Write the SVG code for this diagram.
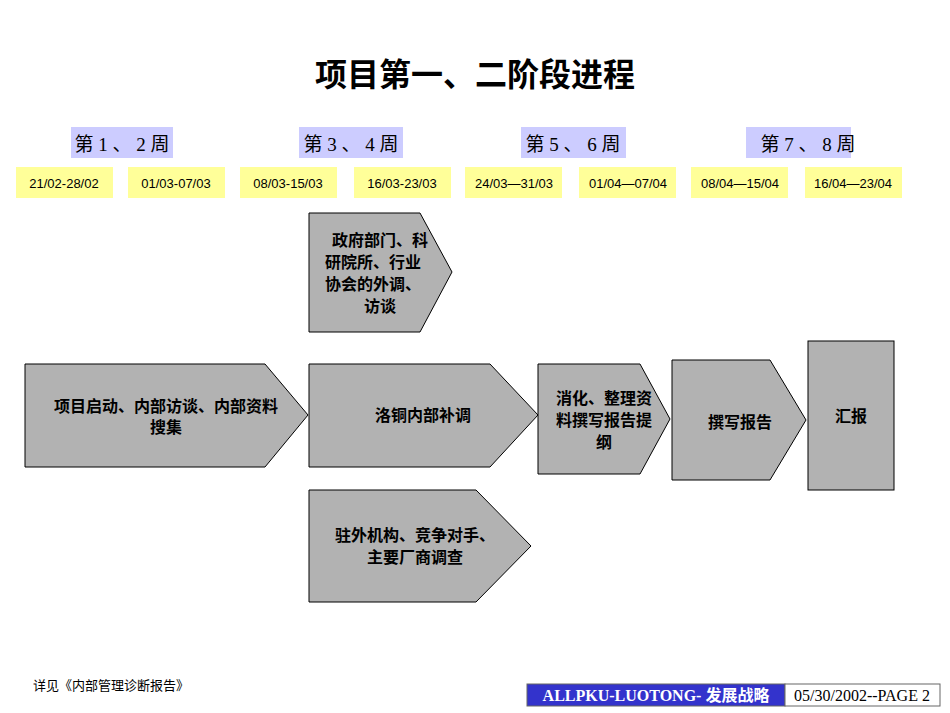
<svg xmlns="http://www.w3.org/2000/svg" width="950" height="713" viewBox="0 0 950 713">
<style>
.s{fill:#b2b2b2;stroke:#000;stroke-width:1}
.t{font-family:"Liberation Sans","Noto Sans CJK SC",sans-serif;font-size:16px;font-weight:bold;fill:#000;text-anchor:middle}
.w{fill:#ccccff}
.wt{font-family:"Liberation Serif","Noto Sans CJK SC",serif;font-size:19px;fill:#000;text-anchor:middle}
.d{fill:#ffff99}
.dt{font-family:"Liberation Sans","Noto Sans CJK SC",sans-serif;font-size:13px;fill:#000;text-anchor:middle}
</style>
<rect width="950" height="713" fill="#fff"/>
<text x="475" y="86" class="t" style="font-size:32px">项目第一、二阶段进程</text>
<g id="weeks">
<rect class="w" x="71" y="127" width="102" height="31"/><text class="wt" x="122" y="151">第 1 、 2 周</text>
<rect class="w" x="299" y="127" width="104" height="31"/><text class="wt" x="351" y="151">第 3 、 4 周</text>
<rect class="w" x="521" y="127" width="105" height="31"/><text class="wt" x="573" y="151">第 5 、 6 周</text>
<rect class="w" x="746" y="127" width="105" height="31"/><text class="wt" x="808" y="151">第 7 、 8 周</text>
</g>
<g id="dates">
<rect class="d" x="16" y="167" width="97" height="31"/><text class="dt" x="64" y="188">21/02-28/02</text>
<rect class="d" x="128" y="167" width="97" height="31"/><text class="dt" x="176" y="188">01/03-07/03</text>
<rect class="d" x="240" y="167" width="97" height="31"/><text class="dt" x="288" y="188">08/03-15/03</text>
<rect class="d" x="354" y="167" width="97" height="31"/><text class="dt" x="402" y="188">16/03-23/03</text>
<rect class="d" x="465" y="167" width="97" height="31"/><text class="dt" x="514" y="188">24/03—31/03</text>
<rect class="d" x="579" y="167" width="97" height="31"/><text class="dt" x="628" y="188">01/04—07/04</text>
<rect class="d" x="691" y="167" width="97" height="31"/><text class="dt" x="740" y="188">08/04—15/04</text>
<rect class="d" x="805" y="167" width="97" height="31"/><text class="dt" x="853" y="188">16/04—23/04</text>
</g>
<g id="n1"><polygon class="s" points="25,364 265,364 308,415 265,467 25,467"/><text class="t" x="166" y="412">项目启动、内部访谈、内部资料</text><text class="t" x="166" y="433">搜集</text></g>
<g id="n2"><polygon class="s" points="309,213 420,213 452,272 420,332 309,332"/><text class="t" x="380" y="246">政府部门、科</text><text class="t" x="373" y="268">研院所、行业</text><text class="t" x="373" y="290">协会的外调、</text><text class="t" x="380" y="312">访谈</text></g>
<g id="n3"><polygon class="s" points="309,364 490,364 538,415 490,467 309,467"/><text class="t" x="423" y="421">洛铜内部补调</text></g>
<g id="n4"><polygon class="s" points="309,490 476,490 531,546 476,602 309,602"/><text class="t" x="415" y="541">驻外机构、竞争对手、</text><text class="t" x="415" y="563">主要厂商调查</text></g>
<g id="n5"><polygon class="s" points="538,364 640,364 670,419 640,474 538,474"/><text class="t" x="604" y="404">消化、整理资</text><text class="t" x="604" y="426">料撰写报告提</text><text class="t" x="604" y="448">纲</text></g>
<g id="n6"><polygon class="s" points="672,360 770,360 806,420 770,480 672,480"/><text class="t" x="740" y="428">撰写报告</text></g>
<g id="n7"><rect class="s" x="808" y="341" width="86" height="149"/><text class="t" x="851" y="422">汇报</text></g>
<g id="connectors"></g>
<text x="33" y="690" style="font-family:'Liberation Serif','Noto Sans CJK SC',serif;font-size:13px">详见《内部管理诊断报告》</text>
<rect x="527" y="684" width="258" height="22" fill="#3333cc" stroke="#666"/>
<text x="656" y="701" style="font-family:'Liberation Serif','Noto Sans CJK SC',serif;font-size:16px;font-weight:bold;fill:#fff;text-anchor:middle">ALLPKU-LUOTONG- 发展战略</text>
<rect x="785" y="684" width="155" height="22" fill="#fff" stroke="#666"/>
<text x="862" y="701" style="font-family:'Liberation Serif',serif;font-size:16px;text-anchor:middle">05/30/2002--PAGE 2</text>
</svg>
